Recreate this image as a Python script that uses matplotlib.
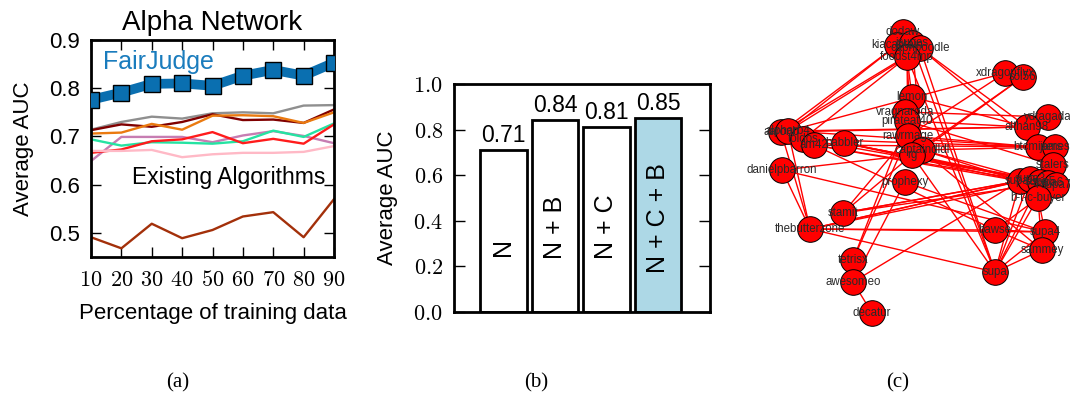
import matplotlib
matplotlib.use('Agg')
import matplotlib.pyplot as plt
from matplotlib.collections import LineCollection

plt.rcParams['font.family'] = ['Liberation Sans', 'DejaVu Sans']
plt.rcParams['mathtext.fontset'] = 'cm'

# ---------------- data: panel (a) ----------------
train_pct = [10, 20, 30, 40, 50, 60, 70, 80, 90]
fairjudge = [0.776, 0.791, 0.809, 0.810, 0.805, 0.826, 0.838, 0.826, 0.853]
alg_gray = [0.714, 0.730, 0.741, 0.737, 0.748, 0.750, 0.748, 0.764, 0.765]
alg_maroon = [0.713, 0.725, 0.720, 0.730, 0.746, 0.734, 0.735, 0.728, 0.756]
alg_orange = [0.706, 0.708, 0.726, 0.714, 0.743, 0.744, 0.742, 0.728, 0.750]
alg_orchid = [0.649, 0.699, 0.699, 0.699, 0.688, 0.702, 0.711, 0.701, 0.686]
alg_green = [0.694, 0.681, 0.688, 0.687, 0.685, 0.690, 0.712, 0.699, 0.727]
alg_red = [0.666, 0.673, 0.690, 0.694, 0.709, 0.686, 0.695, 0.685, 0.725]
alg_pink = [0.670, 0.670, 0.672, 0.657, 0.663, 0.666, 0.666, 0.668, 0.680]
alg_brown = [0.491, 0.468, 0.519, 0.489, 0.506, 0.534, 0.543, 0.491, 0.570]
y_ticks_a = [0.5, 0.6, 0.7, 0.8, 0.9]

# ---------------- data: panel (b) ----------------
bar_labels = ['N', 'N + B', 'N + C', 'N + C + B']
bar_values = [0.71, 0.84, 0.81, 0.85]
y_ticks_b = [0.0, 0.2, 0.4, 0.6, 0.8, 1.0]

# ---------------- data: panel (c) network ----------------
node_names = ['dodaw', 'kiacaptain', 'jsupes', 'capnpoodle', 'foodst4mp',
              'xdragonflyx', 'sol56', 'lemon', 'vragnaroda', 'pirateat40',
              'rawrmage', 'captaindldl', 'rg', 'prophexy', 'aaronb',
              'alpharb4', 'toldos', 'am42', 'babbler', 'danielpbarron',
              'stamit', 'thebutterzone', 'tetrisx', 'awesomeo', 'decatur',
              'ydtagada', 'althan98', 'btcmixers', 'james', 'stalers',
              'supa2', 'supa3', 'supa5', 'supa6', 'supa7',
              'b-t-c-buyer', 'bawse', 'supa4', 'sammey', 'supa']
node_x = [903, 897, 912, 920, 907, 1005, 1023, 912, 905, 907,
          908, 922, 912, 905, 781, 788, 803, 814, 844, 782,
          843, 810, 853, 853, 872, 1048, 1027, 1038, 1055, 1053,
          1020, 1030, 1040, 1048, 1056, 1038, 995, 1045, 1042, 995]
node_y = [32, 45, 43, 48, 57, 73, 77, 97, 112, 121,
          136, 150, 155, 182, 132, 131, 139, 145, 143, 170,
          213, 229, 260, 282, 313, 117, 127, 147, 147, 165,
          181, 179, 182, 183, 185, 198, 230, 232, 250, 272]
edge_src = [1, 1, 4, 4, 3, 4, 4, 2, 4, 4, 3, 2, 3, 10, 5, 6, 5,
            14, 15, 15, 16, 17, 18, 18, 18, 17, 16, 11, 12, 11,
            19, 19, 19, 14, 15, 17, 21, 21, 21, 20, 20, 20, 20, 20,
            21, 21, 21, 13, 23, 23, 22, 30, 31, 32, 35, 35, 35, 35,
            36, 36, 38, 37, 13, 10, 9, 8, 7, 11, 9, 3, 12, 11, 6, 18, 17]
edge_dst = [14, 15, 15, 16, 14, 7, 12, 11, 10, 39, 39, 39, 26, 22, 10, 12, 15,
            26, 26, 27, 27, 28, 30, 31, 32, 30, 31, 30, 31, 32,
            21, 12, 37, 21, 21, 36, 30, 31, 32, 30, 31, 33, 12, 10,
            36, 39, 37, 23, 24, 30, 9, 39, 39, 39, 37, 38, 39, 36,
            37, 38, 39, 39, 37, 27, 26, 25, 26, 28, 29, 27, 39, 38, 11, 33, 34]

# ---------------- figure ----------------
W, H = 1070, 408
fig = plt.figure(figsize=(W / 100, H / 100), dpi=100)

# ===== panel (a) =====
axA = fig.add_axes([91 / W, (H - 257) / H, 243 / W, 217 / H])
series = [
    (alg_gray, '#8f8f8f'),
    (alg_maroon, '#800000'),
    (alg_orange, '#ea7a10'),
    (alg_orchid, '#c77db2'),
    (alg_green, '#25e3a2'),
    (alg_red, '#ff1c1c'),
    (alg_pink, '#ffb9c6'),
    (alg_brown, '#a3300a'),
]
for vals, col in series:
    axA.plot(train_pct, vals, color=col, lw=1.7, zorder=2)
axA.plot(train_pct, fairjudge, color='#0a6fb0', lw=7, marker='s', ms=11,
         mfc='#0a6fb0', mec='black', mew=1.0, zorder=5)
axA.set_xlim(10, 90)
axA.set_ylim(0.45, 0.9)
axA.set_xticks(train_pct)
axA.set_xticklabels(['$%d$' % v for v in train_pct])
axA.set_yticks(y_ticks_a)
axA.set_yticklabels(['%.1f' % v for v in y_ticks_a])
axA.tick_params(direction='in', top=True, right=True, length=7, width=1,
                labelsize=16, pad=8)
axA.tick_params(axis='x', labelsize=16, pad=9)
for s in axA.spines.values():
    s.set_linewidth(2)
axA.set_title('Alpha Network', fontsize=20, pad=7)
axA.set_ylabel('Average AUC', fontsize=16, labelpad=11)
axA.set_xlabel('Percentage of training data', fontsize=16, labelpad=9)
axA.text(13.9, 0.855, 'FairJudge', color='#1a7cbd', fontsize=18,
         ha='left', va='center')
axA.text(87.0, 0.614, 'Existing Algorithms', color='black', fontsize=16.5,
         ha='right', va='center')

# ===== panel (b) =====
axB = fig.add_axes([454 / W, (H - 312) / H, 256 / W, 228 / H])
bar_colors = ['white', 'white', 'white', '#add8e6']
xpos = list(range(len(bar_values)))
axB.bar(xpos, bar_values, width=0.9, color=bar_colors, edgecolor='black',
        linewidth=2, zorder=2)
axB.set_xlim(-0.96, 4.01)
axB.set_ylim(0, 1.0)
axB.set_xticks([])
axB.set_yticks(y_ticks_b)
axB.set_yticklabels(['$%.1f$' % v for v in y_ticks_b])
axB.tick_params(axis='y', direction='in', right=True, length=8, width=1,
                labelsize=16, pad=8)
for s in axB.spines.values():
    s.set_linewidth(2)
axB.set_ylabel('Average AUC', fontsize=16, labelpad=11)
inner_y = [0.285, 0.373, 0.373, 0.41]
for i, (v, lab) in enumerate(zip(bar_values, bar_labels)):
    axB.text(i, v + 0.035, '%.2f' % v, ha='center', va='baseline', fontsize=16.5)
    axB.text(i, inner_y[i], lab, ha='center', va='center', rotation=90,
             fontsize=18)

# ===== panel (c) =====
axC = fig.add_axes([730 / W, (H - 330) / H, 340 / W, 330 / H])
axC.set_xlim(730, 1070)
axC.set_ylim(330, 0)
axC.axis('off')
segs = [[(node_x[a], node_y[a]), (node_x[b], node_y[b])]
        for a, b in zip(edge_src, edge_dst)]
axC.add_collection(LineCollection(segs, colors='#ff0000', linewidths=1.0,
                                  zorder=1))
axC.scatter(node_x, node_y, s=340, c='#ff0000', edgecolors='black',
            linewidths=0.7, zorder=2)
for name, x, y in zip(node_names, node_x, node_y):
    axC.text(x, y, name, fontsize=8.3, color='#2a2a2a', ha='center',
             va='center', zorder=3)

# ===== captions =====
for lab, xc in zip(['(a)', '(b)', '(c)'], [178, 536, 898]):
    fig.text(xc / W, 1 - 383 / H, lab, ha='center', va='center',
             fontsize=15, family='Liberation Serif')

fig.savefig('out.png', dpi=100)
